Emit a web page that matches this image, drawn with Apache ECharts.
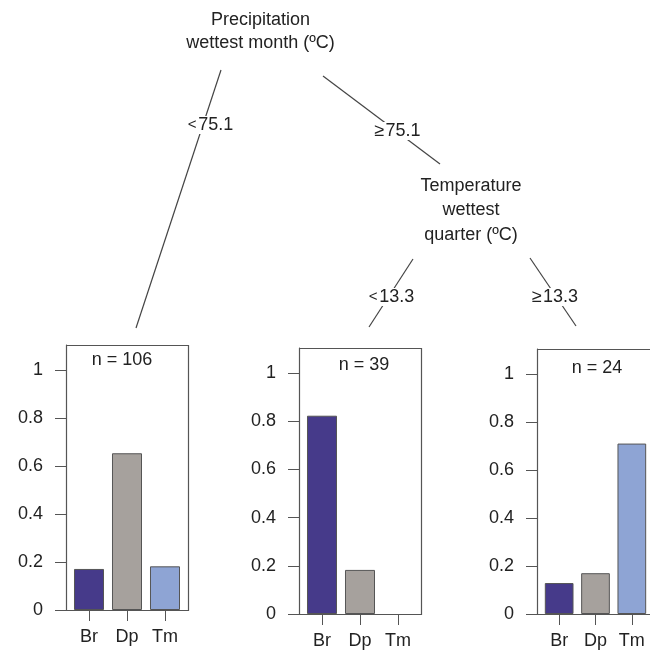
<!DOCTYPE html>
<html>
<head>
<meta charset="utf-8">
<script src="https://cdn.jsdelivr.net/npm/echarts@6/dist/echarts.min.js"></script>
<style>
html,body{margin:0;padding:0;background:#fff;}
#chart{width:650px;height:653px;}
</style>
</head>
<body>
<div id="chart"></div>
<script>
// ---- data ----
var categories = ['Br', 'Dp', 'Tm'];
var node1Values = [0.171, 0.653, 0.182];
var node2Values = [0.823, 0.183, 0];
var node3Values = [0.129, 0.170, 0.710];
var nCounts = [106, 39, 24];
var yTickValues = [0, 0.2, 0.4, 0.6, 0.8, 1];
var rootLabel = ['Precipitation', 'wettest month (ºC)'];
var node2Label = ['Temperature', 'wettest', 'quarter (ºC)'];
var splitLabels = [['<', '75.1'], ['≥', '75.1'], ['<', '13.3'], ['≥', '13.3']];

// ---- styling ----
var FONT = 'Liberation Sans, Arial, Helvetica, sans-serif';
var TXT = '#222222';
var LINE = '#444444';
var BOX = '#555555';
var barColors = ['#463a8a', '#a6a19d', '#8ea4d4'];

// panel layout: box left, box top, box bottom
var panels = [
  {left: 66, top: 345, bottom: 610, values: node1Values},
  {left: 299, top: 348, bottom: 614, values: node2Values},
  {left: 537, top: 349, bottom: 614, values: node3Values}
];
var BOXW = 122, INSET = 4;

var grids = [], xAxes = [], yAxes = [], series = [], graphics = [];

panels.forEach(function (p, i) {
  grids.push({left: p.left + INSET, top: p.top, width: BOXW - 2 * INSET, height: p.bottom - p.top, containLabel: false});
  xAxes.push({
    type: 'category', gridIndex: i, data: categories,
    axisLine: {show: true, lineStyle: {color: BOX, width: 1}},
    axisTick: {show: true, alignWithLabel: true, length: 11, lineStyle: {color: BOX}},
    axisLabel: {color: TXT, fontSize: 18, fontFamily: FONT, margin: 18}
  });
  yAxes.push({
    type: 'value', gridIndex: i, min: 0, max: 1.104, offset: INSET,
    axisLine: {show: true, lineStyle: {color: BOX, width: 1}},
    axisTick: {show: true, length: 11, lineStyle: {color: BOX}, customValues: yTickValues},
    axisLabel: {color: TXT, fontSize: 18, fontFamily: FONT, margin: 23, customValues: yTickValues,
      formatter: function (v) { return String(Math.round(v * 10) / 10); }},
    splitLine: {show: false}
  });
  series.push({
    type: 'bar', xAxisIndex: i, yAxisIndex: i, barWidth: '79%',
    data: p.values.map(function (v, k) {
      return {value: v, itemStyle: {color: barColors[k], borderColor: BOX, borderWidth: v > 0 ? 1 : 0}};
    }),
    silent: true, animation: false
  });
  graphics.push({
    type: 'rect', z: 5,
    shape: {x: p.left + 0.5, y: p.top + 0.5, width: BOXW, height: p.bottom - p.top},
    style: {fill: 'none', stroke: BOX, lineWidth: 1.2}
  });
});

// n labels
var nPos = [[122, 360], [364, 365], [597, 368]];
nCounts.forEach(function (n, i) {
  graphics.push({
    type: 'text', z: 6, x: nPos[i][0], y: nPos[i][1],
    style: {text: 'n = ' + n, font: '18px ' + FONT, fill: TXT, align: 'center', verticalAlign: 'middle'}
  });
});

// tree edges
var edges = [
  [[221, 70], [136, 328]],
  [[323, 76], [440, 164]],
  [[413, 259], [369, 327]],
  [[530, 258], [576, 326]]
];
edges.forEach(function (e) {
  graphics.push({
    type: 'line', z: 5,
    shape: {x1: e[0][0], y1: e[0][1], x2: e[1][0], y2: e[1][1]},
    style: {stroke: LINE, lineWidth: 1.2}
  });
});

// split labels
var splitPos = [[210.5, 125], [397.5, 131], [391.5, 297], [555, 297]];
splitLabels.forEach(function (s, i) {
  var symSize = s[0] === '≥' ? 18 : 15;
  graphics.push({
    type: 'text', z: 7, x: splitPos[i][0], y: splitPos[i][1],
    style: {
      text: '{s|' + s[0] + '}{g| }{n|' + s[1] + '}',
      rich: {
        s: {fontSize: symSize, fontFamily: FONT, fill: TXT, color: TXT},
        g: {fontSize: s[0] === '≥' ? 4 : 7, fontFamily: FONT},
        n: {fontSize: 18, fontFamily: FONT, fill: TXT, color: TXT}
      },
      align: 'center', verticalAlign: 'middle',
      backgroundColor: '#ffffff', padding: [0, 1]
    }
  });
});

// node labels
graphics.push({
  type: 'text', z: 7, x: 260.5, y: 31.5,
  style: {text: rootLabel.join('\n'), font: '18px ' + FONT, fill: TXT, align: 'center', verticalAlign: 'middle', lineHeight: 23}
});
graphics.push({
  type: 'text', z: 7, x: 471, y: 210.5,
  style: {text: node2Label.join('\n'), font: '18px ' + FONT, fill: TXT, align: 'center', verticalAlign: 'middle', lineHeight: 24.5}
});

var chart = echarts.init(document.getElementById('chart'), null, {renderer: 'canvas'});
chart.setOption({
  backgroundColor: '#ffffff',
  animation: false,
  grid: grids,
  xAxis: xAxes,
  yAxis: yAxes,
  series: series,
  graphic: graphics
});
</script>
</body>
</html>
